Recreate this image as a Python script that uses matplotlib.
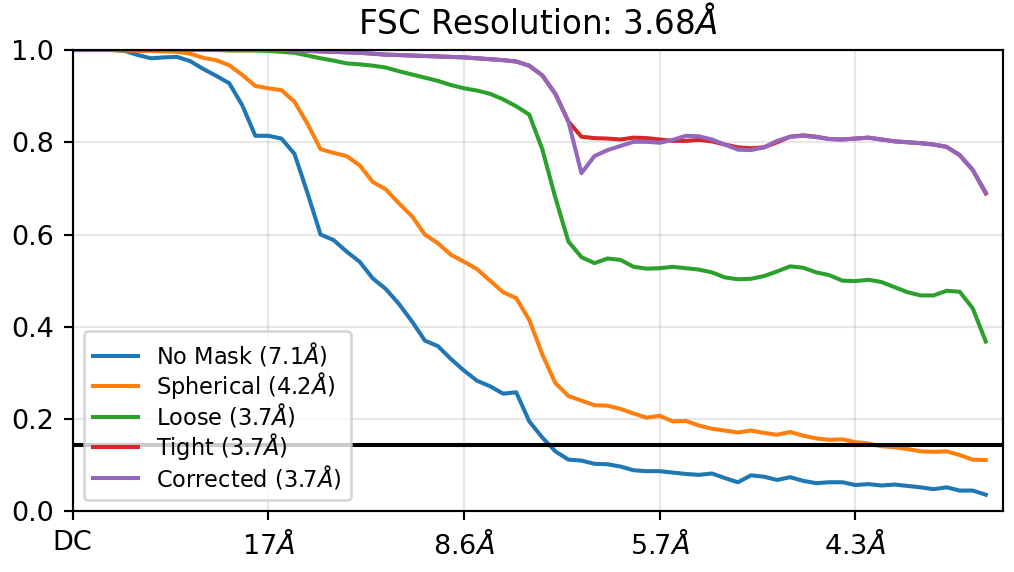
import numpy as np
import matplotlib
matplotlib.use("Agg")
import matplotlib.pyplot as plt

# frequency shell index, DC = 0 (ticks every 15 shells)
shells = np.arange(71)
tick_shells = [0, 15, 30, 45, 60]
tick_labels = ['DC', '17$\\AA$', '8.6$\\AA$', '5.7$\\AA$', '4.3$\\AA$']
fsc_cutoff = 0.143

no_mask = [1.0, 1.0, 1.0, 1.0, 0.998, 0.989, 0.982, 0.984, 0.985, 0.976,
           0.959, 0.944, 0.928, 0.880, 0.814, 0.814, 0.808, 0.775, 0.690, 0.600,
           0.588, 0.563, 0.541, 0.505, 0.482, 0.450, 0.412, 0.370, 0.358, 0.330,
           0.305, 0.283, 0.271, 0.255, 0.258, 0.195, 0.160, 0.130, 0.112, 0.110,
           0.103, 0.102, 0.097, 0.089, 0.087, 0.087, 0.084, 0.081, 0.079, 0.082,
           0.072, 0.063, 0.078, 0.075, 0.068, 0.074, 0.066, 0.061, 0.063, 0.063,
           0.057, 0.059, 0.056, 0.058, 0.055, 0.052, 0.048, 0.052, 0.045, 0.045,
           0.036]
spherical = [1.0, 1.0, 1.0, 1.0, 0.999, 0.998, 0.998, 0.997, 0.996, 0.992,
             0.983, 0.978, 0.967, 0.946, 0.922, 0.917, 0.913, 0.888, 0.840, 0.785,
             0.777, 0.770, 0.750, 0.714, 0.698, 0.668, 0.640, 0.600, 0.581, 0.556,
             0.541, 0.525, 0.500, 0.475, 0.462, 0.415, 0.340, 0.278, 0.250, 0.240,
             0.230, 0.229, 0.222, 0.212, 0.203, 0.207, 0.195, 0.196, 0.186, 0.179,
             0.175, 0.171, 0.175, 0.170, 0.166, 0.172, 0.164, 0.158, 0.155, 0.156,
             0.150, 0.147, 0.141, 0.139, 0.135, 0.130, 0.129, 0.130, 0.122, 0.112,
             0.111]
loose = [1.0, 1.0, 1.0, 1.0, 1.0, 1.0, 1.0, 1.0, 1.0, 1.0,
         1.0, 1.0, 0.999, 0.999, 0.999, 0.998, 0.996, 0.994, 0.988, 0.982,
         0.977, 0.971, 0.969, 0.966, 0.962, 0.954, 0.947, 0.940, 0.933, 0.924,
         0.917, 0.912, 0.905, 0.893, 0.878, 0.860, 0.785, 0.680, 0.585, 0.551,
         0.538, 0.548, 0.545, 0.530, 0.526, 0.527, 0.530, 0.527, 0.524, 0.518,
         0.507, 0.503, 0.504, 0.510, 0.520, 0.531, 0.528, 0.518, 0.512, 0.500,
         0.499, 0.502, 0.497, 0.486, 0.475, 0.468, 0.468, 0.478, 0.476, 0.440,
         0.368]
tight = [1.0, 1.0, 1.0, 1.0, 1.0, 1.0, 1.0, 1.0, 1.0, 1.0,
         1.0, 1.0, 1.0, 1.0, 1.0, 1.0, 1.0, 0.999, 0.998, 0.997,
         0.996, 0.995, 0.994, 0.992, 0.990, 0.989, 0.988, 0.987, 0.986, 0.985,
         0.984, 0.982, 0.980, 0.978, 0.975, 0.966, 0.945, 0.905, 0.845, 0.812,
         0.809, 0.808, 0.806, 0.810, 0.809, 0.806, 0.803, 0.803, 0.805, 0.802,
         0.795, 0.789, 0.787, 0.789, 0.800, 0.812, 0.815, 0.812, 0.807, 0.806,
         0.808, 0.810, 0.806, 0.802, 0.800, 0.798, 0.795, 0.790, 0.772, 0.740,
         0.689]
corrected = [1.0, 1.0, 1.0, 1.0, 1.0, 1.0, 1.0, 1.0, 1.0, 1.0,
             1.0, 1.0, 1.0, 1.0, 1.0, 1.0, 1.0, 0.999, 0.998, 0.997,
             0.996, 0.995, 0.994, 0.992, 0.990, 0.989, 0.988, 0.987, 0.986, 0.985,
             0.984, 0.982, 0.980, 0.978, 0.975, 0.966, 0.945, 0.905, 0.845, 0.733,
             0.770, 0.783, 0.792, 0.801, 0.801, 0.799, 0.805, 0.814, 0.813, 0.806,
             0.795, 0.784, 0.783, 0.789, 0.803, 0.812, 0.814, 0.811, 0.807, 0.806,
             0.808, 0.810, 0.806, 0.802, 0.800, 0.798, 0.795, 0.790, 0.772, 0.740,
             0.691]

curves = [
    (no_mask, 'No Mask (7.1$\\AA$)'),
    (spherical, 'Spherical (4.2$\\AA$)'),
    (loose, 'Loose (3.7$\\AA$)'),
    (tight, 'Tight (3.7$\\AA$)'),
    (corrected, 'Corrected (3.7$\\AA$)'),
]

fig = plt.figure(figsize=(1014 / 195, 572 / 195), dpi=195)
ax = fig.add_axes([0.0717, 0.1061, 0.9172, 0.8065])

for values, label in curves:
    ax.plot(shells, values, label=label)

ax.axhline(fsc_cutoff, color='k')

ax.set_xticks(tick_shells)
ax.set_xticklabels(tick_labels)
ax.set_xlim(0, 71.3)
ax.set_ylim(0, 1)
ax.grid(alpha=0.3)
ax.set_title('FSC Resolution: 3.68$\\AA$')
ax.legend(loc='lower left', fontsize='small', labelspacing=0.05)

fig.savefig('out.png', dpi=195)
